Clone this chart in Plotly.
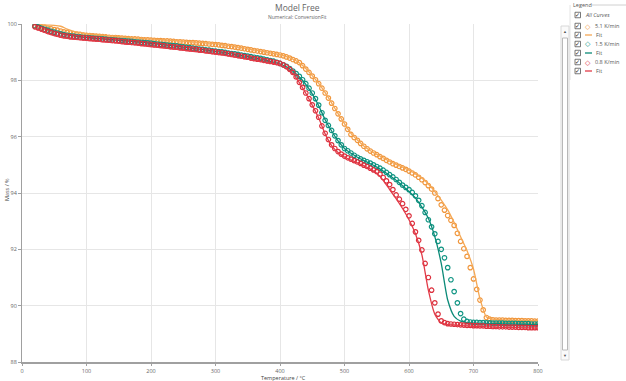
import plotly.graph_objects as go

# ---------------- data ----------------
# measured points (markers), every 5 °C
temp_points = [20, 25, 30, 35, 40, 45, 50, 55, 60, 65, 70, 75, 80, 85, 90, 95, 100, 105, 110, 115,
               120, 125, 130, 135, 140, 145, 150, 155, 160, 165, 170, 175, 180, 185, 190, 195, 200,
               205, 210, 215, 220, 225, 230, 235, 240, 245, 250, 255, 260, 265, 270, 275, 280, 285,
               290, 295, 300, 305, 310, 315, 320, 325, 330, 335, 340, 345, 350, 355, 360, 365, 370,
               375, 380, 385, 390, 395, 400, 405, 410, 415, 420, 425, 430, 435, 440, 445, 450, 455,
               460, 465, 470, 475, 480, 485, 490, 495, 500, 505, 510, 515, 520, 525, 530, 535, 540,
               545, 550, 555, 560, 565, 570, 575, 580, 585, 590, 595, 600, 605, 610, 615, 620, 625,
               630, 635, 640, 645, 650, 655, 660, 665, 670, 675, 680, 685, 690, 695, 700, 705, 710,
               715, 720, 725, 730, 735, 740, 745, 750, 755, 760, 765, 770, 775, 780, 785, 790, 795, 800]

mass_5_1 = [99.95, 99.93, 99.90, 99.88, 99.85, 99.83, 99.80, 99.78, 99.75, 99.72, 99.70, 99.68,
            99.66, 99.64, 99.63, 99.61, 99.60, 99.59, 99.58, 99.57, 99.56, 99.55, 99.54, 99.53,
            99.52, 99.52, 99.51, 99.50, 99.49, 99.48, 99.47, 99.47, 99.46, 99.45, 99.44, 99.44,
            99.43, 99.42, 99.41, 99.41, 99.40, 99.40, 99.39, 99.38, 99.37, 99.37, 99.36, 99.35,
            99.34, 99.34, 99.33, 99.32, 99.31, 99.30, 99.29, 99.28, 99.27, 99.26, 99.24, 99.23,
            99.21, 99.20, 99.18, 99.16, 99.14, 99.12, 99.10, 99.08, 99.06, 99.04, 99.02, 99.00,
            98.98, 98.96, 98.94, 98.92, 98.90, 98.87, 98.83, 98.79, 98.74, 98.69, 98.63, 98.52,
            98.40, 98.28, 98.15, 98.02, 97.88, 97.72, 97.55, 97.37, 97.19, 97.00, 96.81, 96.63,
            96.45, 96.26, 96.08, 95.97, 95.87, 95.76, 95.66, 95.57, 95.49, 95.42, 95.36, 95.29,
            95.23, 95.16, 95.10, 95.04, 94.99, 94.94, 94.89, 94.84, 94.78, 94.71, 94.64, 94.56,
            94.47, 94.37, 94.26, 94.14, 94.00, 93.80, 93.58, 93.39, 93.20, 93.03, 92.85, 92.57,
            92.28, 92.02, 91.75, 91.35, 90.95, 90.58, 90.20, 89.85, 89.58, 89.52, 89.50, 89.49,
            89.49, 89.49, 89.48, 89.48, 89.48, 89.47, 89.47, 89.47, 89.46, 89.46, 89.46, 89.45, 89.45]

mass_1_5 = [99.93, 99.89, 99.85, 99.81, 99.78, 99.74, 99.71, 99.68, 99.65, 99.62, 99.60, 99.58,
            99.57, 99.55, 99.54, 99.53, 99.52, 99.51, 99.50, 99.49, 99.48, 99.47, 99.46, 99.45,
            99.44, 99.43, 99.42, 99.41, 99.40, 99.39, 99.38, 99.37, 99.36, 99.35, 99.34, 99.33,
            99.32, 99.30, 99.29, 99.28, 99.27, 99.25, 99.24, 99.23, 99.22, 99.20, 99.19, 99.17,
            99.16, 99.14, 99.13, 99.11, 99.10, 99.08, 99.07, 99.05, 99.04, 99.02, 99.01, 98.99,
            98.97, 98.95, 98.94, 98.92, 98.90, 98.88, 98.86, 98.84, 98.82, 98.80, 98.78, 98.75,
            98.73, 98.70, 98.68, 98.64, 98.60, 98.55, 98.50, 98.42, 98.33, 98.24, 98.14, 98.02,
            97.88, 97.72, 97.55, 97.35, 97.12, 96.85, 96.58, 96.40, 96.22, 96.03, 95.86, 95.71,
            95.58, 95.50, 95.42, 95.34, 95.27, 95.21, 95.16, 95.11, 95.06, 95.00, 94.94, 94.88,
            94.81, 94.73, 94.65, 94.57, 94.48, 94.38, 94.28, 94.20, 94.12, 94.02, 93.90, 93.74,
            93.55, 93.31, 93.05, 92.80, 92.55, 92.28, 92.00, 91.70, 91.35, 90.92, 90.50, 90.10,
            89.72, 89.52, 89.44, 89.42, 89.41, 89.41, 89.40, 89.40, 89.39, 89.39, 89.38, 89.38,
            89.38, 89.38, 89.37, 89.37, 89.37, 89.37, 89.36, 89.36, 89.36, 89.36, 89.35, 89.35, 89.35]

mass_0_8 = [99.90, 99.86, 99.82, 99.78, 99.74, 99.70, 99.67, 99.64, 99.61, 99.59, 99.57, 99.55,
            99.54, 99.53, 99.52, 99.51, 99.50, 99.49, 99.48, 99.47, 99.46, 99.45, 99.44, 99.43,
            99.42, 99.41, 99.40, 99.38, 99.37, 99.36, 99.35, 99.34, 99.33, 99.31, 99.30, 99.29,
            99.28, 99.26, 99.25, 99.24, 99.23, 99.21, 99.20, 99.19, 99.18, 99.16, 99.15, 99.13,
            99.12, 99.11, 99.10, 99.08, 99.07, 99.05, 99.04, 99.02, 99.01, 98.99, 98.98, 98.96,
            98.94, 98.92, 98.90, 98.88, 98.86, 98.84, 98.82, 98.79, 98.77, 98.75, 98.73, 98.71,
            98.69, 98.67, 98.65, 98.63, 98.60, 98.55, 98.48, 98.39, 98.28, 98.12, 97.93, 97.75,
            97.55, 97.35, 97.13, 96.92, 96.69, 96.38, 96.12, 95.90, 95.71, 95.58, 95.47, 95.38,
            95.31, 95.25, 95.20, 95.15, 95.10, 95.05, 94.99, 94.94, 94.88, 94.82, 94.76, 94.67,
            94.55, 94.43, 94.30, 94.12, 93.93, 93.78, 93.62, 93.42, 93.19, 92.92, 92.62, 92.32,
            91.98, 91.50, 91.00, 90.55, 90.10, 89.70, 89.46, 89.40, 89.36, 89.35, 89.34, 89.33,
            89.32, 89.31, 89.30, 89.30, 89.29, 89.29, 89.28, 89.28, 89.27, 89.27, 89.26, 89.26,
            89.25, 89.25, 89.25, 89.24, 89.24, 89.24, 89.23, 89.23, 89.23, 89.22, 89.22, 89.22, 89.22]

# fitted curves, every 10 °C
temp_fit = [20, 30, 40, 50, 60, 70, 80, 90, 100, 110, 120, 130, 140, 150, 160, 170, 180, 190,
            200, 210, 220, 230, 240, 250, 260, 270, 280, 290, 300, 310, 320, 330, 340, 350,
            360, 370, 380, 390, 400, 410, 420, 430, 440, 450, 460, 470, 480, 490, 500, 510,
            520, 530, 540, 550, 560, 570, 580, 590, 600, 610, 620, 630, 640, 650, 660, 670,
            680, 690, 700, 710, 720, 730, 740, 750, 760, 770, 780, 790, 800]

fit_5_1 = [99.98, 99.97, 99.96, 99.95, 99.92, 99.82, 99.74, 99.69, 99.66, 99.63, 99.61, 99.59,
           99.57, 99.55, 99.53, 99.51, 99.50, 99.48, 99.47, 99.45, 99.44, 99.42, 99.41, 99.39,
           99.37, 99.36, 99.34, 99.32, 99.30, 99.27, 99.24, 99.20, 99.16, 99.12, 99.08, 99.04,
           99.00, 98.95, 98.91, 98.84, 98.75, 98.62, 98.42, 98.17, 97.89, 97.56, 97.20, 96.82,
           96.46, 96.12, 95.88, 95.67, 95.50, 95.37, 95.25, 95.13, 95.02, 94.92, 94.81, 94.68,
           94.52, 94.32, 94.05, 93.75, 93.40, 92.95, 92.45, 91.95, 91.30, 90.25, 89.60, 89.52,
           89.50, 89.49, 89.49, 89.48, 89.48, 89.47, 89.47]
fit_1_5 = [100.00, 99.92, 99.82, 99.74, 99.68, 99.62, 99.58, 99.55, 99.52, 99.50, 99.48, 99.46,
           99.44, 99.42, 99.40, 99.38, 99.36, 99.34, 99.31, 99.29, 99.26, 99.24, 99.21, 99.18,
           99.15, 99.12, 99.09, 99.06, 99.03, 99.00, 98.96, 98.92, 98.88, 98.84, 98.80, 98.75,
           98.70, 98.65, 98.58, 98.48, 98.32, 98.12, 97.86, 97.52, 97.10, 96.60, 96.20, 95.85,
           95.58, 95.41, 95.27, 95.15, 95.04, 94.92, 94.78, 94.62, 94.45, 94.26, 94.05, 93.82,
           93.50, 93.10, 92.45, 91.50, 90.20, 89.62, 89.45, 89.40, 89.38, 89.37, 89.37, 89.36,
           89.36, 89.35, 89.35, 89.34, 89.34, 89.33, 89.33]
fit_0_8 = [99.85, 99.75, 99.66, 99.59, 99.53, 99.49, 99.46, 99.44, 99.42, 99.40, 99.38, 99.36,
           99.34, 99.32, 99.29, 99.27, 99.25, 99.22, 99.20, 99.17, 99.15, 99.12, 99.10, 99.07,
           99.04, 99.02, 98.99, 98.96, 98.93, 98.90, 98.87, 98.83, 98.79, 98.75, 98.71, 98.67,
           98.63, 98.59, 98.54, 98.43, 98.24, 97.92, 97.54, 97.12, 96.66, 96.10, 95.68, 95.44,
           95.28, 95.17, 95.07, 94.96, 94.85, 94.70, 94.45, 94.12, 93.80, 93.45, 93.05, 92.55,
           91.80, 90.55, 89.70, 89.38, 89.33, 89.31, 89.29, 89.28, 89.27, 89.26, 89.25, 89.24,
           89.23, 89.23, 89.22, 89.22, 89.21, 89.21, 89.20]

series_names = ["5.1 K/min", "1.5 K/min", "0.8 K/min"]
fit_name = "Fit"
marker_colors = ["#F0963C", "#0E9482", "#DC2F3C"]
line_colors = ["#F5A855", "#0B8A78", "#E23B48"]

x_ticks = [0, 100, 200, 300, 400, 500, 600, 700, 800]
y_ticks = [88, 90, 92, 94, 96, 98, 100]
x_title = "Temperature / °C"
y_title = "Mass / %"

# ---------------- figure ----------------
W, H = 626, 381
L, R, T, B = 22, 88, 24, 19
PW, PH = W - L - R, H - T - B


def px(x):
    return (x - L) / PW


def py(y):
    return (H - B - y) / PH


fig = go.Figure()
markers = [mass_5_1, mass_1_5, mass_0_8]
fits = [fit_5_1, fit_1_5, fit_0_8]
for i in range(3):
    fig.add_trace(go.Scatter(
        x=temp_points, y=markers[i], mode="markers", name=series_names[i],
        marker=dict(symbol="circle-open", size=4.5, color=marker_colors[i], line=dict(width=1.2)),
        showlegend=False))
    fig.add_trace(go.Scatter(
        x=temp_fit, y=fits[i], mode="lines", name=fit_name,
        line=dict(color=line_colors[i], width=1.3, shape="spline", smoothing=0.6),
        showlegend=False))

font_family = "Open Sans, Noto Sans, sans-serif"
txt = "#666666"

fig.update_layout(
    width=W, height=H, template="none",
    margin=dict(l=L, r=R, t=T, b=B, pad=0),
    paper_bgcolor="white", plot_bgcolor="white",
    font=dict(family=font_family, size=6, color=txt),
    showlegend=False,
    xaxis=dict(range=[0, 800], tickvals=x_ticks, ticktext=[str(v) for v in x_ticks],
               showgrid=True, gridcolor="#E6E6E6", gridwidth=1, zeroline=False,
               showline=True, linecolor="#A0A0A0", linewidth=2, ticks="outside",
               ticklen=2, tickcolor="#A0A0A0", tickfont=dict(size=5.5, color=txt),
               automargin=False),
    yaxis=dict(range=[88, 100], tickvals=y_ticks, ticktext=[str(v) for v in y_ticks],
               showgrid=True, gridcolor="#E6E6E6", gridwidth=1, zeroline=False,
               showline=True, linecolor="#A0A0A0", linewidth=1, ticks="outside",
               ticklen=3, tickcolor="#A0A0A0", tickfont=dict(size=5.5, color=txt),
               automargin=False),
)

ann = []
shapes = []
# axis titles
ann.append(dict(text=x_title, x=px(283), y=py(377.5), xref="paper", yref="paper", showarrow=False,
                font=dict(size=5.5, color="#444"), xanchor="center", yanchor="middle"))
ann.append(dict(text=y_title, x=px(7), y=py(190), xref="paper", yref="paper", showarrow=False,
                textangle=-90, font=dict(size=5.5, color="#444"), xanchor="center", yanchor="middle"))
# titles
ann.append(dict(text="Model Free", x=px(297), y=py(7), xref="paper", yref="paper",
                showarrow=False, font=dict(size=8.5, color="#666"), xanchor="center", yanchor="middle"))
ann.append(dict(text="Numerical: ConversionFit", x=px(297), y=py(17), xref="paper", yref="paper",
                showarrow=False, font=dict(size=5, color="#666"), xanchor="center", yanchor="middle"))

# legend panel
ann.append(dict(text="Legend", x=px(571), y=py(5), xref="paper", yref="paper", showarrow=False,
                font=dict(size=5.5, color="#555"), xanchor="left", yanchor="middle"))
shapes.append(dict(type="line", xref="paper", yref="paper", x0=px(592), x1=px(626), y0=py(5), y1=py(5),
                   line=dict(color="#D0D0D0", width=1)))
shapes.append(dict(type="line", xref="paper", yref="paper", x0=px(570), x1=px(570), y0=py(5), y1=py(80),
                   line=dict(color="#E4E4E4", width=1)))


def checkbox(yc):
    shapes.append(dict(type="rect", xref="paper", yref="paper", x0=px(575), x1=px(580.5),
                       y0=py(yc + 2.75), y1=py(yc - 2.75), line=dict(color="#555", width=0.8),
                       fillcolor="white"))
    ann.append(dict(text="✓", x=px(577.8), y=py(yc), xref="paper", yref="paper", showarrow=False,
                    font=dict(size=6, color="#222"), xanchor="center", yanchor="middle"))


checkbox(15)
ann.append(dict(text="<i>All Curves</i>", x=px(583), y=py(15), xref="paper", yref="paper",
                showarrow=False, font=dict(size=5.5, color="#555"), xanchor="left", yanchor="middle"))

row_y = [26, 35, 44, 53, 62, 71]
for i in range(3):
    ym = row_y[2 * i]
    yf = row_y[2 * i + 1]
    checkbox(ym)
    ann.append(dict(text="◇", x=px(588), y=py(ym), xref="paper", yref="paper", showarrow=False,
                    font=dict(size=6.5, color=marker_colors[i]), xanchor="center", yanchor="middle"))
    ann.append(dict(text=series_names[i], x=px(593), y=py(ym), xref="paper", yref="paper",
                    showarrow=False, font=dict(size=5.5, color="#555"), xanchor="left", yanchor="middle"))
    checkbox(yf)
    shapes.append(dict(type="line", xref="paper", yref="paper", x0=px(585), x1=px(592),
                       y0=py(yf), y1=py(yf), line=dict(color=line_colors[i], width=1.3)))
    ann.append(dict(text=fit_name, x=px(594), y=py(yf), xref="paper", yref="paper",
                    showarrow=False, font=dict(size=5.5, color="#555"), xanchor="left", yanchor="middle"))

# scrollbar
shapes.append(dict(type="rect", xref="paper", yref="paper", x0=px(561), x1=px(569), y0=py(360), y1=py(26),
                   line=dict(color="#D8D8D8", width=1), fillcolor="#FAFAFA"))
shapes.append(dict(type="rect", xref="paper", yref="paper", x0=px(562.5), x1=px(567.5), y0=py(350), y1=py(38),
                   line=dict(color="#B8B8B8", width=1), fillcolor="white"))
ann.append(dict(text="▲", x=px(565), y=py(31), xref="paper", yref="paper", showarrow=False,
                font=dict(size=4, color="#555"), xanchor="center", yanchor="middle"))
ann.append(dict(text="▼", x=px(565), y=py(355), xref="paper", yref="paper", showarrow=False,
                font=dict(size=4, color="#555"), xanchor="center", yanchor="middle"))

fig.update_layout(annotations=ann, shapes=shapes)

assert len(temp_points) == len(mass_5_1) == len(mass_1_5) == len(mass_0_8)
assert len(temp_fit) == len(fit_5_1) == len(fit_1_5) == len(fit_0_8)

fig.write_html("out.html", config={"displayModeBar": False},
               post_script="document.body.style.margin='0';document.body.style.padding='0';"
                           "document.body.style.overflow='hidden';")
